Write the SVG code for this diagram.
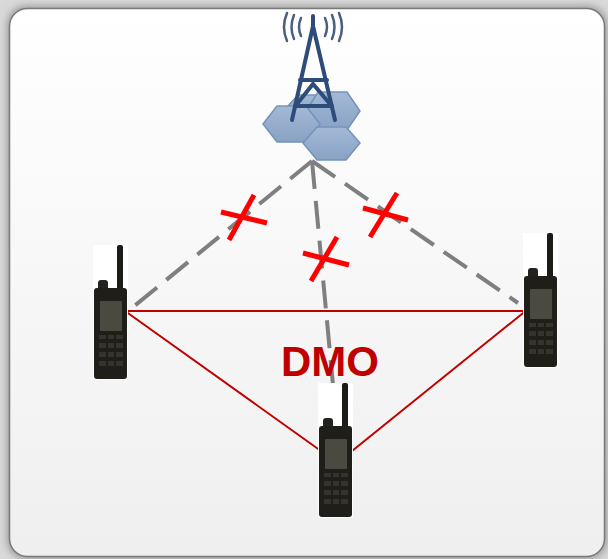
<svg xmlns="http://www.w3.org/2000/svg" width="608" height="559" viewBox="0 0 608 559">
  <defs>
    <linearGradient id="panelFill" x1="0" y1="0" x2="0" y2="1">
      <stop offset="0" stop-color="#ffffff"/>
      <stop offset="1" stop-color="#efefef"/>
    </linearGradient>
    <linearGradient id="hexFill" x1="0" y1="0" x2="0" y2="1">
      <stop offset="0" stop-color="#a3b9d6"/>
      <stop offset="1" stop-color="#88a2c4"/>
    </linearGradient>
    <filter id="soft" x="-10%" y="-10%" width="120%" height="120%">
      <feGaussianBlur stdDeviation="4"/>
    </filter>
    <!-- handheld radio -->
    <g id="radio">
      <rect x="0" y="0" width="35" height="135" fill="#ffffff"/>
      <rect x="24" y="0" width="6" height="48" rx="2" fill="#1b1b18"/>
      <rect x="5" y="35" width="10" height="12" rx="3" fill="#22221f"/>
      <rect x="1" y="43" width="33" height="91" rx="3" fill="#1f1e19"/>
      <rect x="7" y="56" width="22" height="30" rx="1" fill="#4b4a40"/>
      <g fill="#34342e">
        <rect x="6" y="90" width="7" height="4"/>
        <rect x="15" y="90" width="6" height="4"/>
        <rect x="23" y="90" width="7" height="4"/>
        <rect x="6" y="98" width="7" height="5"/>
        <rect x="15" y="98" width="6" height="5"/>
        <rect x="23" y="98" width="7" height="5"/>
        <rect x="6" y="107" width="7" height="5"/>
        <rect x="15" y="107" width="6" height="5"/>
        <rect x="23" y="107" width="7" height="5"/>
        <rect x="6" y="116" width="7" height="5"/>
        <rect x="15" y="116" width="6" height="5"/>
        <rect x="23" y="116" width="7" height="5"/>
      </g>
    </g>
  </defs>
  <style>
    .hex { fill: url(#hexFill); stroke: #7593ba; stroke-width: 1.5; }
    .tower { fill: none; stroke: #2e4c7a; stroke-width: 4; stroke-linecap: round; }
    .wave { fill: none; stroke: #4a5f80; stroke-width: 2.5; stroke-linecap: round; }
    .trunk { stroke: #7f7f7f; stroke-width: 4; stroke-dasharray: 28 12; fill: none; }
    .dmo { stroke: #c00000; stroke-width: 2; fill: none; }
    .cross { stroke: #ff0000; stroke-width: 5; }
    .label { font-family: "Liberation Sans", Arial, sans-serif; font-weight: bold; font-size: 42px; fill: #c00000; }
  </style>

  <!-- backdrop and panel -->
  <rect x="0" y="0" width="608" height="559" fill="#d9d9d9"/>
  <rect x="8" y="7" width="598" height="551" rx="18" fill="#8a8a8a" filter="url(#soft)"/>
  <rect x="9.5" y="8.5" width="595" height="548" rx="18" fill="url(#panelFill)" stroke="#7a7a7a" stroke-width="1.5"/>

  <!-- base station -->
  <g id="base-station">
    <path class="wave" d="M301 18 Q297 27 301 36"/>
    <path class="wave" d="M294 15 Q289 27 294 39"/>
    <path class="wave" d="M287 13 Q281 27 287 41"/>
    <path class="wave" d="M325 18 Q329 27 325 36"/>
    <path class="wave" d="M332 15 Q337 27 332 39"/>
    <path class="wave" d="M339 13 Q345 27 339 41"/>
    <polygon class="hex" points="288,106 298,95 324,95 334,106 324,117 298,117"/>
    <polygon class="hex" points="306,111 318,92 347,92 360,111 347,130 318,130"/>
    <polygon class="hex" points="263,124 277,106 306,106 320,124 306,142 277,142"/>
    <line class="tower" x1="313" y1="16" x2="313" y2="28"/>
    <path class="tower" d="M292 120 L313 26 L335 120"/>
    <line class="tower" x1="300" y1="80" x2="327" y2="80"/>
    <path class="tower" d="M297 104 L313 84 L330 104" stroke-width="3"/>
    <line class="tower" x1="295" y1="106" x2="332" y2="106" stroke-width="3"/>
    <polygon class="hex" points="303,143 317,127 346,127 360,143 346,160 317,160"/>
  </g>

  <!-- links -->
  <g id="connectors">
    <line class="trunk" x1="312" y1="161" x2="127" y2="312"/>
    <line class="trunk" x1="312" y1="161" x2="333" y2="385"/>
    <line class="trunk" x1="312" y1="161" x2="518" y2="303"/>
    <line class="dmo" x1="125" y1="311" x2="526" y2="311"/>
    <line class="dmo" x1="125" y1="311" x2="321" y2="451"/>
    <line class="dmo" x1="533" y1="305" x2="352" y2="451"/>
  </g>

  <!-- blocked trunk marks -->
  <g id="blocked-marks">
    <line class="cross" x1="221" y1="212" x2="267" y2="223"/>
    <line class="cross" x1="254" y1="195" x2="229" y2="240"/>
    <line class="cross" x1="303" y1="253" x2="349" y2="265"/>
    <line class="cross" x1="337" y1="237" x2="311" y2="281"/>
    <line class="cross" x1="363" y1="208" x2="408" y2="220"/>
    <line class="cross" x1="397" y1="193" x2="370" y2="237"/>
  </g>

  <text class="label" x="330" y="376" text-anchor="middle">DMO</text>

  <g id="radio-left"><use href="#radio" x="93" y="245"/></g>
  <g id="radio-right"><use href="#radio" x="523" y="233"/></g>
  <g id="radio-bottom"><use href="#radio" x="318" y="383"/></g>
</svg>
